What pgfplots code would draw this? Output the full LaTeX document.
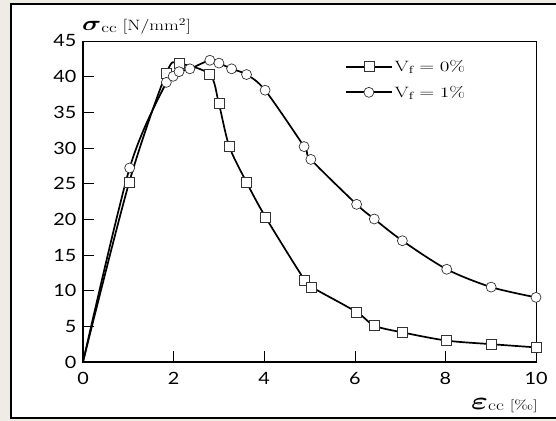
\documentclass[border=0pt]{standalone}
\usepackage{fontspec}
\usepackage{graphicx}
\usepackage{pgfplots}
\pgfplotsset{compat=1.18}
\usepackage{bm}
\newfontfamily\tickfont{Lato}
\definecolor{bgbeige}{HTML}{EEECE4}
% the scanned figure is stretched sideways; stretch the text the same way
\newcommand{\wide}[1]{\scalebox{1.37}[1]{#1}}

\begin{document}
\begin{tikzpicture}
\useasboundingbox (0bp,0bp) rectangle (556bp,421bp);
\fill[bgbeige] (0bp,0bp) rectangle (556bp,421bp);
\fill[white] (11bp,3bp) rectangle (556bp,417bp);
\draw[line width=2bp] (557bp,417bp) -- (11bp,417bp) -- (11bp,3bp) -- (557bp,3bp);

\begin{axis}[
  scale only axis, width=453bp, height=321bp,
  at={(83bp,59bp)}, anchor=south west,
  xmin=0, xmax=10, ymin=0, ymax=45,
  xtick={0,2,...,10}, ytick={0,5,...,45},
  tick align=inside, xtick pos=bottom, ytick pos=left,
  major tick length=11bp,
  every tick/.style={black, line width=0.6bp},
  axis line style={line width=0.8bp},
  /pgf/number format/assume math mode=true,
  tick label style={font=\tickfont\fontsize{17}{17}\selectfont},
  xticklabel={\scalebox{1.17}[1]{\pgfmathprintnumber{\tick}}},
  yticklabel={\scalebox{1.17}[1]{\pgfmathprintnumber{\tick}}},
  yticklabel style={xshift=-3bp},
  xticklabel style={yshift=-7bp},
  clip=false,
  legend image code/.code={\draw[mark repeat=2,mark phase=2,#1] plot coordinates {(0bp,0bp) (23bp,0bp) (46bp,0bp)};},
  legend style={draw=none, fill=none, at={(axis cs:5.78,42.6)}, anchor=north west,
    font=\fontsize{15}{15}\selectfont, row sep=9bp, inner sep=0pt},
  legend cell align=left,
]
  % curves
  \addplot[black, line width=1.7bp, smooth, tension=0.5, forget plot] coordinates {
    (0,0) (1.02,25.2) (1.84,40.5) (2.12,41.8) (2.8,40.3) (3.0,36.2) (3.23,30.2)
    (3.61,25.2) (4.03,20.3) (4.89,11.5) (5.05,10.5) (6.04,7.0) (6.43,5.1)
    (7.05,4.15) (8.03,3.0) (9.01,2.5) (10,2.05)};
  \addplot[black, line width=1.7bp, smooth, tension=0.5, forget plot] coordinates {
    (0,0) (1.03,27.2) (1.84,39.2) (1.99,40.05) (2.12,40.7) (2.36,41.1) (2.8,42.3)
    (3.0,41.9) (3.28,41.1) (3.61,40.3) (4.02,38.1) (4.88,30.2) (5.03,28.4)
    (6.04,22.1) (6.43,20.05) (7.05,17.0) (8.03,13.0) (9.01,10.5) (10,9.06)};
  % markers
  \addplot[only marks, mark=square*, mark size=5bp,
    mark options={fill=white, draw=black!80, line width=0.7bp}, forget plot] coordinates {
    (1.02,25.2) (1.84,40.5) (2.12,41.8) (2.8,40.3) (3.0,36.2) (3.23,30.2)
    (3.61,25.2) (4.03,20.3) (4.89,11.5) (5.05,10.5) (6.04,7.0) (6.43,5.1)
    (7.05,4.15) (8.03,3.0) (9.01,2.5) (10,2.05)};
  \addplot[only marks, mark=*, mark size=5bp,
    mark options={fill=white, draw=black!80, line width=0.7bp}, forget plot] coordinates {
    (1.03,27.2) (1.84,39.2) (1.99,40.05) (2.12,40.7) (2.36,41.1) (2.8,42.3)
    (3.0,41.9) (3.28,41.1) (3.61,40.3) (4.02,38.1) (4.88,30.2) (5.03,28.4)
    (6.04,22.1) (6.43,20.05) (7.05,17.0) (8.03,13.0) (9.01,10.5) (10,9.06)};

  \addlegendimage{black, line width=1.7bp, mark=square*, mark size=5bp,
    mark options={fill=white, draw=black!80, line width=0.7bp}}
  \addlegendentry{\wide{$\mathrm{V_f}=0\%$}}
  \addlegendimage{black, line width=1.7bp, mark=*, mark size=5bp,
    mark options={fill=white, draw=black!80, line width=0.7bp}}
  \addlegendentry{\wide{$\mathrm{V_f}=1\%$}}

  % heavier left and bottom axis lines
  \draw[line width=2.5bp] (rel axis cs:0,1) -- (rel axis cs:0,0) -- (rel axis cs:1,0);
\end{axis}

\node[anchor=base west, font=\fontsize{15}{15}\selectfont, inner sep=0pt]
  at (82bp,390bp) {\scalebox{1.28}[1]{{\fontsize{22}{22}\selectfont$\bm{\sigma}$}\raisebox{-1.5bp}{\fontsize{14}{14}\selectfont cc} [N/mm\textsuperscript{2}]}};
\node[anchor=base east, font=\fontsize{15}{15}\selectfont, inner sep=0pt]
  at (538bp,12bp) {\scalebox{1.3}[1]{{\fontsize{24}{24}\selectfont$\bm{\varepsilon}$}\raisebox{-1.5bp}{cc} {\fontsize{13}{13}\selectfont[\char"2030]}}};
\end{tikzpicture}
\end{document}
